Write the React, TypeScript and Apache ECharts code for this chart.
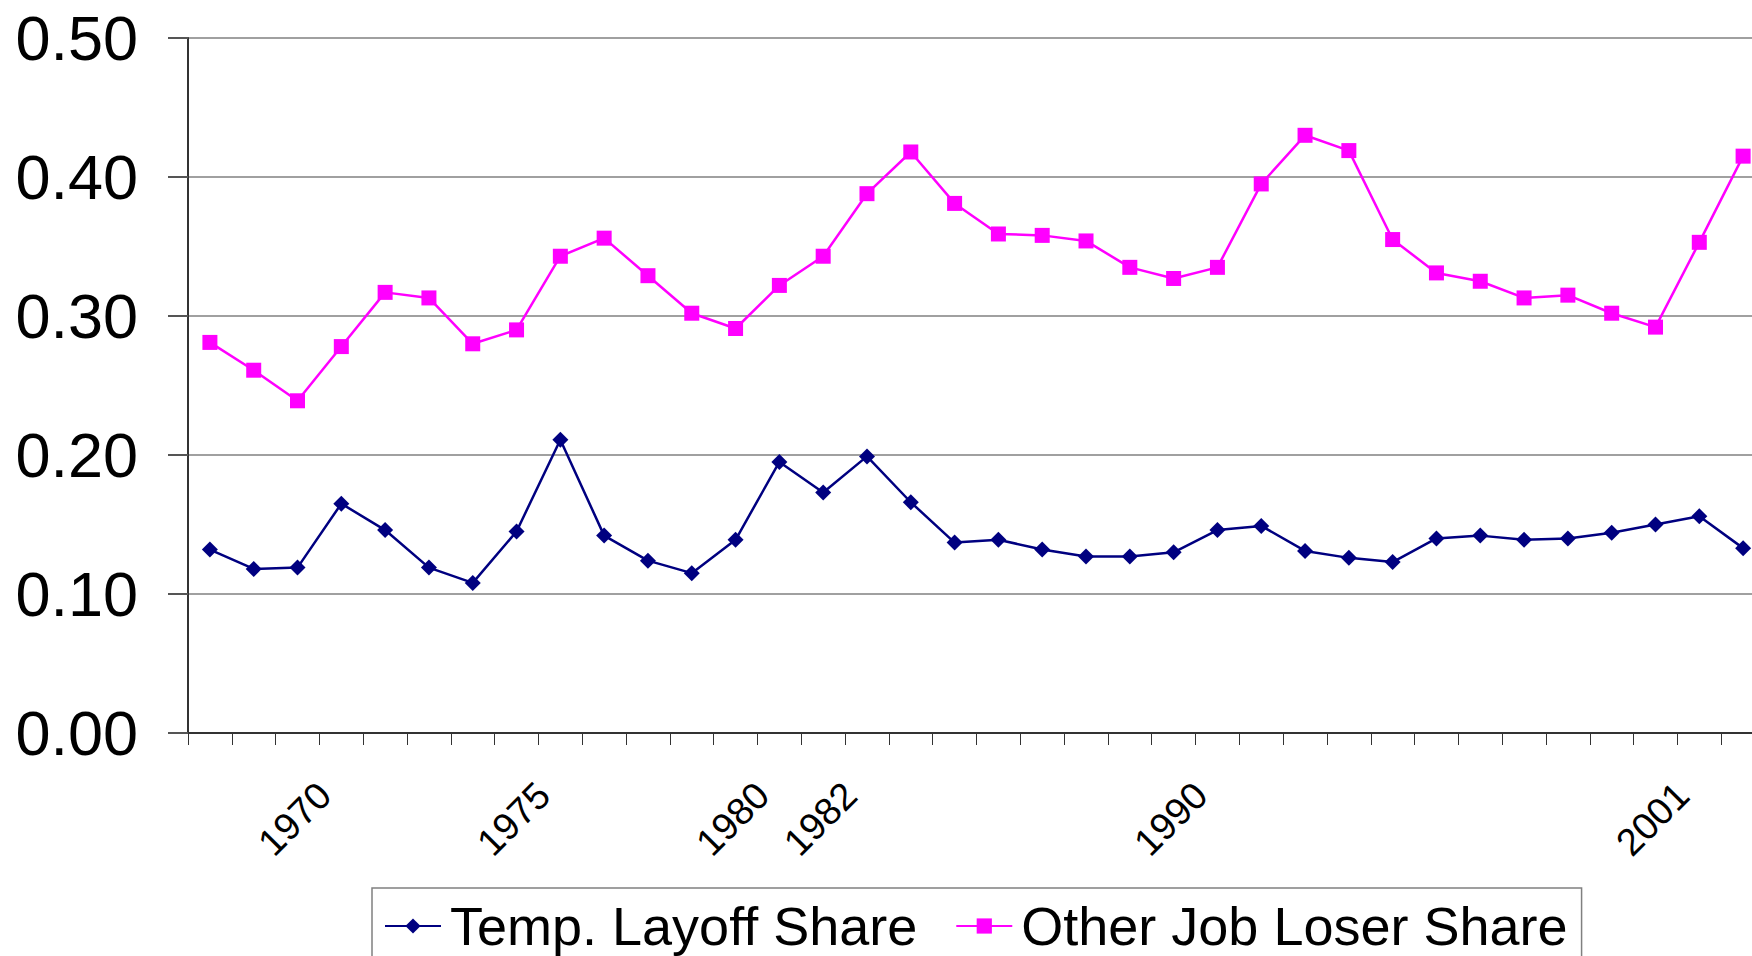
import React, { useEffect, useRef } from "react";
import * as echarts from "echarts";

const years = [
  "1968","1969","1970","1971","1972","1973","1974","1975","1976","1977",
  "1978","1979","1980","1981","1982","1983","1984","1985","1986","1987",
  "1988","1989","1990","1991","1992","1993","1994","1995","1996","1997",
  "1998","1999","2000","2001","2002","2003",
];

const xTickLabels = ["1970", "1975", "1980", "1982", "1990", "2001"];

const tempLayoffShare = [
  0.132, 0.118, 0.119, 0.165, 0.146, 0.119, 0.108, 0.145, 0.211, 0.142,
  0.124, 0.115, 0.139, 0.195, 0.173, 0.199, 0.166, 0.137, 0.139, 0.132,
  0.127, 0.127, 0.130, 0.146, 0.149, 0.131, 0.126, 0.123, 0.140, 0.142,
  0.139, 0.140, 0.144, 0.150, 0.156, 0.133,
];

const otherJobLoserShare = [
  0.281, 0.261, 0.239, 0.278, 0.317, 0.313, 0.280, 0.290, 0.343, 0.356,
  0.329, 0.302, 0.291, 0.322, 0.343, 0.388, 0.418, 0.381, 0.359, 0.358,
  0.354, 0.335, 0.327, 0.335, 0.395, 0.430, 0.419, 0.355, 0.331, 0.325,
  0.313, 0.315, 0.302, 0.292, 0.353, 0.415,
];

const yTicks = { min: 0, max: 0.5, interval: 0.1 };

const FONT = "'Liberation Sans', Arial, Helvetica, sans-serif";

export default function App() {
  const ref = useRef<HTMLDivElement>(null);

  useEffect(() => {
    if (!ref.current) return;
    const chart = echarts.init(ref.current, null, { renderer: "svg" });
    chart.setOption({
      animation: false,
      backgroundColor: "#ffffff",
      textStyle: { fontFamily: FONT },
      grid: {
        left: 188,
        top: 38,
        width: 1577,
        height: 695,
        outerBoundsMode: "none",
        containLabel: false,
      },
      xAxis: {
        type: "category",
        data: years,
        boundaryGap: true,
        axisLine: { show: true, lineStyle: { color: "#333333", width: 2 } },
        axisTick: {
          show: true,
          interval: 0,
          length: 12,
          alignWithLabel: false,
          lineStyle: { color: "#333333", width: 1 },
        },
        axisLabel: {
          interval: 0,
          rotate: 45,
          align: "center",
          verticalAlign: "middle",
          margin: 83,
          fontSize: 38,
          color: "#000000",
          fontFamily: FONT,
          hideOverlap: false,
          padding: [0, 8, 0, 0],
          formatter: (v: string) => (xTickLabels.includes(v) ? v : ""),
        },
        splitLine: { show: false },
      },
      yAxis: {
        type: "value",
        min: yTicks.min,
        max: yTicks.max,
        interval: yTicks.interval,
        axisLine: { show: true, lineStyle: { color: "#333333", width: 2 } },
        axisTick: { show: true, length: 20, lineStyle: { color: "#555555", width: 2 } },
        axisLabel: {
          margin: 50,
          fontSize: 63,
          color: "#000000",
          fontFamily: FONT,
          formatter: (v: number) => v.toFixed(2),
        },
        splitLine: { show: true, lineStyle: { color: "#808080", width: 1.5 } },
      },
      legend: {
        show: true,
        left: 372,
        top: 888,
        orient: "horizontal",
        padding: [11, 14, 20, 12],
        borderColor: "#808080",
        borderWidth: 1.5,
        itemWidth: 56,
        itemHeight: 19,
        itemGap: 38,
        textStyle: {
          fontSize: 54,
          color: "#000000",
          fontFamily: FONT,
          padding: [0, 0, 0, 4],
        },
        data: ["Temp. Layoff Share", "Other Job Loser Share"],
      },
      series: [
        {
          name: "Temp. Layoff Share",
          type: "line",
          data: tempLayoffShare,
          symbol: "diamond",
          symbolSize: 16,
          showAllSymbol: true,
          lineStyle: { color: "#000080", width: 2.5 },
          itemStyle: { color: "#000080" },
        },
        {
          name: "Other Job Loser Share",
          type: "line",
          data: otherJobLoserShare,
          symbol: "rect",
          symbolSize: 15,
          showAllSymbol: true,
          lineStyle: { color: "#FF00FF", width: 2.5 },
          itemStyle: { color: "#FF00FF" },
        },
      ],
    });
    return () => chart.dispose();
  }, []);

  return (
    <div
      ref={ref}
      style={{ position: "absolute", left: 0, top: 0, width: 1752, height: 956 }}
    />
  );
}
